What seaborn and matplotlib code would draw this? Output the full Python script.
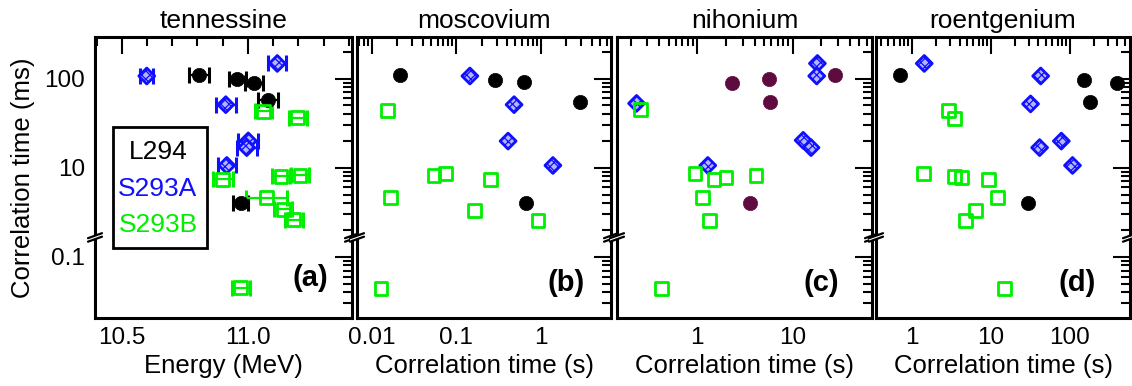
import numpy as np
import pandas as pd
import matplotlib
matplotlib.use("Agg")
import matplotlib.pyplot as plt
import seaborn as sns
from matplotlib.ticker import FixedLocator, NullFormatter, LogLocator, MultipleLocator
from matplotlib.patches import Rectangle, Polygon

# ---------------- data ----------------
titles = ["tennessine", "moscovium", "nihonium", "roentgenium"]
xlabels = ["Energy (MeV)", "Correlation time (s)", "Correlation time (s)", "Correlation time (s)"]
panel_tags = ["(a)", "(b)", "(c)", "(d)"]
groups = ["L294", "S293A", "S293B"]

# (a) tennessine: alpha energy (MeV) vs correlation time (ms)
a_L294_E = [10.807, 10.958, 11.024, 11.080, 10.971]
a_L294_dE = [0.040, 0.035, 0.036, 0.040, 0.031]
a_L294_t = [109, 100, 90, 57, 4.05]
a_S293A_E = [10.599, 11.116, 10.912, 11.001, 10.995, 10.916]
a_S293A_dE = [0.026, 0.035, 0.040, 0.040, 0.040, 0.035]
a_S293A_t = [107, 148, 51, 20, 16.8, 10.6]
a_S293B_E = [11.061, 11.197, 10.900, 11.131, 11.206, 11.074, 11.140, 11.182, 10.971]
a_S293B_dE = [0.035, 0.035, 0.040, 0.035, 0.035, 0.082, 0.035, 0.035, 0.035]
a_S293B_t = [43, 36.5, 7.4, 8.05, 8.2, 4.6, 3.4, 2.6, 0.045]

# (b) moscovium: correlation time (s) vs tennessine correlation time (ms)
b_L294_x = [0.0216, 0.286, 0.63, 2.88, 0.66]
b_L294_t = [109, 96, 92, 55, 4.05]
b_S293A_x = [0.145, 0.483, 0.41, 1.39]
b_S293A_t = [107, 51, 19.9, 10.6]
b_S293B_x = [0.01545, 0.0545, 0.0748, 0.254, 0.0168, 0.163, 0.927, 0.0129]
b_S293B_t = [44, 8.2, 8.6, 7.4, 4.6, 3.3, 2.58, 0.044]

# (c) nihonium
c_L294_x = [2.30, 5.7, 5.8, 27.8, 3.57]
c_L294_t = [90, 98, 55, 109, 4.05]
c_S293A_x = [0.231, 18.2, 17.9, 12.9, 15.6, 1.29]
c_S293A_t = [52.7, 148, 107, 20.3, 16.8, 10.6]
c_S293B_x = [0.255, 0.946, 1.50, 2.0, 4.13, 1.14, 1.34, 0.423]
c_S293B_t = [45, 8.6, 7.4, 7.8, 8.2, 4.6, 2.58, 0.044]

# (d) roentgenium
d_L294_x = [0.71, 151, 394, 181, 29.8]
d_L294_t = [109, 96, 90, 55, 4.05]
d_S293A_x = [1.43, 42.7, 31.8, 78, 41.4, 108]
d_S293A_t = [148, 107, 52, 19.9, 16.8, 10.6]
d_S293B_x = [2.92, 3.48, 1.40, 3.48, 4.2, 9.4, 12.0, 6.37, 4.75, 15.0]
d_S293B_t = [44, 35.6, 8.6, 8.05, 7.7, 7.4, 4.6, 3.3, 2.58, 0.044]

y_major = [0.1, 10, 100]
y_major_labels = ["0.1", "10", "100"]
y_minor = [0.03, 0.04, 0.05, 0.06, 0.07, 0.08, 0.09,
           2, 3, 4, 5, 6, 7, 8, 9,
           20, 30, 40, 50, 60, 70, 80, 90, 200]

x_major = [[10.5, 11.0], [0.01, 0.1, 1], [1, 10], [1, 10, 100]]
x_major_labels = [["10.5", "11.0"], ["0.01", "0.1", "1"], ["1", "10"], ["1", "10", "100"]]
x_limits = [(10.394, 11.412), (0.0067, 6.76), (0.144, 68.0), (0.35, 578.0)]
y_limits = (0.0207, 291.0)

# ---------------- style ----------------
sns.set_theme(style="white")
plt.rcParams["font.family"] = ["Liberation Sans", "DejaVu Sans"]
plt.rcParams["text.color"] = "black"
plt.rcParams["axes.labelcolor"] = "black"
plt.rcParams["xtick.color"] = "black"
plt.rcParams["ytick.color"] = "black"
plt.rcParams["hatch.color"] = "#1010ff"
plt.rcParams["hatch.linewidth"] = 0.9

BLACK = "#000000"
BLUE = "#1010ff"
GREEN = "#00ee00"
MAROON = "#5e0b3f"
DIAMOND_FACE = "#b4b4ff"

# broken log axis: one decade (approx 0.165 ms .. 1.65 ms) removed
BR = 0.217


def fwd(t):
    t = np.asarray(t, dtype=float)
    lt = np.log10(np.clip(t, 1e-12, None))
    return np.where(lt >= BR, lt, np.minimum(lt + 1.0, BR))


def inv(p):
    p = np.asarray(p, dtype=float)
    return np.where(p >= BR, 10.0 ** p, 10.0 ** (p - 1.0))


fig = plt.figure(figsize=(11.32, 3.86), dpi=100)
W, H = 1132.0, 386.0
lefts = [95, 357, 617, 876]
rights = [352, 611, 872, 1130]
top_px, bot_px = 37.3, 317.7
axes = []
for l, r in zip(lefts, rights):
    ax = fig.add_axes([l / W, (H - bot_px) / H, (r - l) / W, (bot_px - top_px) / H])
    axes.append(ax)

panel_data = {
    0: [(a_L294_E, a_L294_t, "L294"), (a_S293A_E, a_S293A_t, "S293A"), (a_S293B_E, a_S293B_t, "S293B")],
    1: [(b_L294_x, b_L294_t, "L294"), (b_S293A_x, b_S293A_t, "S293A"), (b_S293B_x, b_S293B_t, "S293B")],
    2: [(c_L294_x, c_L294_t, "L294"), (c_S293A_x, c_S293A_t, "S293A"), (c_S293B_x, c_S293B_t, "S293B")],
    3: [(d_L294_x, d_L294_t, "L294"), (d_S293A_x, d_S293A_t, "S293A"), (d_S293B_x, d_S293B_t, "S293B")],
}

# error bars for panel (a)
ax = axes[0]
for E, dE, t, col in [(a_L294_E, a_L294_dE, a_L294_t, BLACK),
                      (a_S293A_E, a_S293A_dE, a_S293A_t, BLUE),
                      (a_S293B_E, a_S293B_dE, a_S293B_t, GREEN)]:
    ax.errorbar(E, t, xerr=dE, fmt="none", ecolor=col, elinewidth=1.6,
                capsize=5.5, capthick=2.2, zorder=4)

for i, ax in enumerate(axes):
    for xs, ts, g in panel_data[i]:
        df = pd.DataFrame({"x": xs, "t": ts})
        if g == "L294":
            col = MAROON if i == 2 else BLACK
            sns.scatterplot(data=df, x="x", y="t", ax=ax, marker="o", s=105,
                            color=col, edgecolor=col, linewidth=0.5, zorder=5)
        elif g == "S293A":
            sns.scatterplot(data=df, x="x", y="t", ax=ax, marker="D", s=66,
                            facecolor=DIAMOND_FACE, edgecolor=BLUE, linewidth=2.0,
                            hatch="xxxx", zorder=5)
        else:
            sns.scatterplot(data=df, x="x", y="t", ax=ax, marker="s", s=86,
                            facecolor="none", edgecolor=GREEN, linewidth=2.0, zorder=5)

    if i > 0:
        ax.set_xscale("log")
    ax.set_yscale("function", functions=(fwd, inv))
    ax.set_xlim(*x_limits[i])
    ax.set_ylim(*y_limits)

    ax.yaxis.set_major_locator(FixedLocator(y_major))
    ax.yaxis.set_minor_locator(FixedLocator(y_minor))
    ax.yaxis.set_minor_formatter(NullFormatter())
    ax.set_yticks(y_major, y_major_labels)

    ax.set_xticks(x_major[i], x_major_labels[i])
    if i == 0:
        ax.xaxis.set_minor_locator(MultipleLocator(0.1))
    else:
        ax.xaxis.set_minor_locator(LogLocator(base=10, subs=np.arange(2, 10)))
    ax.xaxis.set_minor_formatter(NullFormatter())

    ax.tick_params(which="both", direction="in", top=True, right=True,
                   width=1.5, color="black", labelcolor="black", labelsize=17.5, pad=7)
    ax.tick_params(which="major", length=12)
    ax.tick_params(which="minor", length=6.5)
    if i > 0:
        ax.tick_params(axis="y", labelleft=False)

    for sp in ax.spines.values():
        sp.set_linewidth(2.2)
        sp.set_color("black")

    ax.set_title(titles[i], fontsize=19, pad=7, color="black")
    ax.set_xlabel(xlabels[i], fontsize=18.5, labelpad=3, color="black")
    ax.set_ylabel("")

    # axis-break marks on left and right spines
    yb = (BR - fwd(y_limits[0])) / (fwd(y_limits[1]) - fwd(y_limits[0]))
    axw = (rights[i] - lefts[i])
    axh = bot_px - top_px
    dx = 7.0 / axw
    dy = 2.5 / axh
    gap = 3.5 / axh
    for xs in (0.0, 1.0):
        poly = Polygon([(xs - dx, yb - gap / 2 - dy), (xs + dx, yb - gap / 2 + dy),
                        (xs + dx, yb + gap / 2 + dy), (xs - dx, yb + gap / 2 - dy)],
                       closed=True, transform=ax.transAxes, facecolor="white",
                       edgecolor="none", clip_on=False, zorder=10)
        ax.add_patch(poly)
        for off in (-gap / 2, gap / 2):
            ax.plot([xs - dx, xs + dx], [yb + off - dy, yb + off + dy],
                    transform=ax.transAxes, color="black", lw=1.6,
                    clip_on=False, zorder=11)

# panel tags
tag_pos = [(0.907, 0.093), (0.898, 0.074), (0.872, 0.075), (0.866, 0.075)]
for ax, tag, (tx, ty) in zip(axes, panel_tags, tag_pos):
    ax.text(tx, ty, tag, transform=ax.transAxes, ha="right", va="bottom",
            fontsize=21, fontweight="bold", color="black", zorder=12)

# y label
axes[0].set_ylabel("Correlation time (ms)", fontsize=18.5, color="black")
axes[0].yaxis.set_label_coords(-0.235, 0.5)

# legend box in panel (a)
ax = axes[0]
ax.add_patch(Rectangle((0.069, 0.2475), 0.366, 0.4335, transform=ax.transAxes,
                       fill=True, facecolor="white", edgecolor="black", lw=2.0, zorder=6))
for lab, col, yy in zip(groups, [BLACK, BLUE, GREEN], [0.591, 0.458, 0.331]):
    ax.text(0.245, yy, lab, color=col, transform=ax.transAxes, ha="center",
            va="center", fontsize=19, zorder=7)

fig.savefig("out.png", dpi=100)
